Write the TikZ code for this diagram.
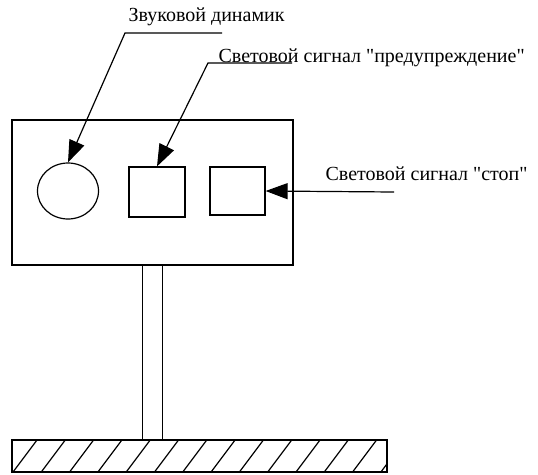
\documentclass[tikz,border=0pt]{standalone}
\usepackage{fontspec}
\setmainfont{Liberation Serif}[Ligatures=TeXOff]
\usetikzlibrary{arrows.meta, positioning, shapes.geometric}

\begin{document}
\begin{tikzpicture}[
  x=1pt, y=-1pt,
  line width=1.2pt,
  font=\fontsize{20}{22}\selectfont,
  part/.style={draw, line width=1.2pt, inner sep=0pt},
  lamp/.style={part, rectangle, minimum width=56pt, minimum height=50pt},
  leader/.style={-{Triangle[length=22pt, width=16pt]}, line width=1.2pt},
  lbl/.style={anchor=base west, inner sep=0pt},
]
\useasboundingbox (0,0) rectangle (538,474);

% ---------------------------------------------------------------
%  panel with speaker and the two lamps
% ---------------------------------------------------------------
\node[part, rectangle, minimum width=281pt, minimum height=145pt]
  (panel) at (152.5,192.5) {};
\node[part, ellipse, minimum width=61pt, minimum height=56pt]
  (speaker) at (68,191) {};
\node[lamp] (warnlamp) at (157,192) {};
\node[lamp, minimum width=55pt, minimum height=48pt] (stoplamp) at (237.5,191) {};

% ---------------------------------------------------------------
%  pole and hatched base
% ---------------------------------------------------------------
\node[part, rectangle, minimum width=375pt, minimum height=32pt]
  (ground) at (199.5,456) {};
\draw ([xshift=-10pt]panel.south) -- ([xshift=-10pt]panel.south |- ground.north);
\draw ([xshift=10pt]panel.south) -- ([xshift=10pt]panel.south |- ground.north);
\begin{scope}
  \clip (ground.south west) rectangle (ground.north east);
  \foreach \k in {0,...,13}
    \draw (13+28.3*\k,472) -- ++(24,-32);
\end{scope}

% ---------------------------------------------------------------
%  labels and leaders
% ---------------------------------------------------------------
\node[lbl] (speakerlbl) at (128,21) {Звуковой динамик};
\node[lbl] (warnlbl) at (218,62) {Световой сигнал "предупреждение"};
\node[lbl] (stoplbl) at (325,180) {Световой сигнал "стоп"};

\coordinate (k1) at (125,33);
\coordinate (k1e) at (222,33);
\coordinate (k2) at (208,63);
\coordinate (k2e) at (292,63);
\coordinate (k3) at (394,192);

\draw[leader] (k1e) -- (k1) -- (speaker.north);
\draw[leader] (k2e) -- (k2) -- (warnlamp.north);
\draw[leader] (k3) -- (stoplamp.east);

\end{tikzpicture}
\end{document}
